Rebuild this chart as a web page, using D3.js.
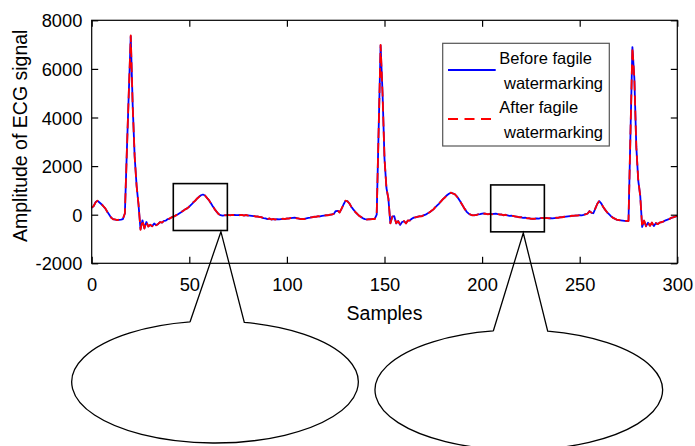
<!DOCTYPE html>
<html>
<head>
<meta charset="utf-8">
<script src="https://cdn.jsdelivr.net/npm/d3@7/dist/d3.min.js"></script>
<style>
  body { margin: 0; background: #fff; }
  text { font-family: "Liberation Sans", Arial, sans-serif; fill: #000; }
</style>
</head>
<body>
<svg id="chart"></svg>
<script>
// Tick values of both axes
const xTicks = [0, 50, 100, 150, 200, 250, 300];
const yTicks = [-2000, 0, 2000, 4000, 6000, 8000];

// Legend entries
const legendLabels = [["Before fagile", "watermarking"], ["After fagile", "watermarking"]];

// ECG amplitude, one value per sample (0..300)
const beforeWm = [
  280, 350, 520, 570, 500, 430, 350, 250, 120, 0,
  -130, -180, -200, -210, -210, -200, -180, 50, 2600, 5000,
  7350, 4500, 2400, 1200, 400, -600, -230, -560, -300, -480,
  -420, -470, -360, -430, -390, -300, -330, -250, -240, -180,
  -160, -100, -80, -30, 10, 60, 110, 170, 220, 270,
  330, 410, 500, 580, 660, 740, 800, 830, 790, 700,
  600, 480, 350, 230, 120, 30, -20, -40, -30, -20,
  -20, -20, -20, -10, -20, -20, -10, -20, -30, -20,
  -30, -40, -50, -60, -70, -80, -90, -110, -140, -150,
  -180, -160, -190, -180, -190, -180, -190, -180, -170, -170,
  -160, -150, -140, -130, -120, -140, -160, -170, -180, -170,
  -150, -130, -120, -100, -90, -80, -70, -70, -50, -40,
  -30, -20, -10, 10, 30, 150, 160, 100, 240, 420,
  570, 560, 460, 330, 220, 120, 30, -40, -100, -150,
  -180, -190, -190, -180, -180, -170, 0, 3500, 6970, 5000,
  2300, 1100, 650, -350, -80, -60, -360, -260, -420, -300,
  -270, -350, -240, -230, -170, -120, -110, -80, -70, -60,
  -30, 0, 50, 100, 150, 220, 300, 380, 460, 560,
  640, 720, 800, 860, 900, 880, 840, 760, 650, 520,
  380, 250, 130, 50, 0, -20, -30, -10, 10, 20,
  40, 50, 30, 20, 30, 20, 30, 40, 20, 10,
  0, -20, -10, -30, -50, -40, -60, -70, -90, -100,
  -110, -130, -120, -140, -150, -160, -170, -160, -150, -160,
  -140, -130, -140, -130, -150, -140, -150, -140, -130, -120,
  -110, -100, -90, -80, -70, -60, -50, -40, -40, -30,
  -20, -30, -10, 20, 40, 150, 80, 60, 250, 450,
  560, 470, 320, 210, 100, 20, -60, -120, -170, -200,
  -220, -230, -240, -250, -260, -250, 3300, 6900, 5600, 2800,
  1400, 800, -500, -250, -470, -330, -450, -330, -470, -350,
  -380, -330, -300, -280, -230, -200, -170, -130, -100, -80,
  -50
];
const afterWm = [
  290, 360, 510, 580, 490, 440, 340, 260, 110, 10,
  -120, -190, -190, -220, -200, -210, -170, 60, 2580, 5020,
  7380, 4480, 2420, 1180, 420, -620, -220, -570, -290, -490,
  -410, -480, -350, -440, -380, -310, -320, -260, -230, -190,
  -150, -110, -70, -40, 20, 50, 120, 160, 230, 260,
  340, 400, 510, 570, 670, 730, 810, 820, 800, 690,
  610, 470, 360, 220, 130, 20, -10, -50, -20, -30,
  -10, -30, -10, -20, -10, -30, -20, -10, -40, -10,
  -40, -30, -60, -50, -80, -70, -100, -100, -150, -140,
  -190, -150, -200, -170, -200, -170, -180, -190, -160, -180,
  -150, -160, -130, -140, -110, -150, -150, -180, -170, -180,
  -140, -140, -110, -110, -80, -90, -60, -80, -40, -50,
  -20, -30, 0, 0, 40, 140, 170, 90, 250, 410,
  580, 550, 470, 320, 230, 110, 40, -50, -90, -160,
  -170, -200, -180, -190, -170, -180, 10, 3480, 6990, 4980,
  2320, 1080, 670, -360, -70, -70, -350, -270, -410, -310,
  -260, -360, -230, -240, -160, -130, -100, -90, -60, -70,
  -20, -10, 60, 90, 160, 210, 310, 370, 470, 550,
  650, 710, 810, 850, 910, 870, 850, 750, 660, 510,
  390, 240, 140, 40, 10, -30, -20, -20, 20, 10,
  50, 40, 40, 10, 40, 10, 40, 30, 30, 0,
  10, -30, 0, -40, -40, -50, -50, -80, -80, -110,
  -100, -140, -110, -150, -140, -170, -160, -170, -140, -170,
  -130, -140, -130, -140, -140, -150, -140, -150, -120, -130,
  -100, -110, -80, -90, -60, -70, -40, -50, -30, -40,
  -10, -40, 0, 10, 50, 140, 90, 50, 260, 440,
  570, 460, 330, 200, 110, 10, -50, -130, -160, -210,
  -210, -240, -230, -260, -250, -260, 3320, 6880, 5620, 2780,
  1420, 780, -510, -240, -480, -320, -460, -320, -480, -340,
  -390, -320, -310, -270, -240, -190, -180, -120, -110, -70,
  -60
];

// Magnified regions: data-space rectangle and the sample under the pointer
const zoomRegions = [
  { x0: 41.8, x1: 69.5, y0: -650, y1: 1280, tip: 66.2 },
  { x0: 204.4, x1: 231.9, y0: -705, y1: 1225, tip: 221.1 }
];

document.addEventListener('DOMContentLoaded', function () {
    drawEcgChart('chart');
});

function drawEcgChart(svgId) {
    const svgWidth = 695;
    const svgHeight = 446;
    const margin = { top: 20.3, right: 17.7, bottom: 182.7, left: 91.7 };
    const width = svgWidth - margin.left - margin.right;
    const height = svgHeight - margin.top - margin.bottom;
    const tickLen = 6.5;

    const root = d3.select(`#${svgId}`)
        .attr("width", svgWidth)
        .attr("height", svgHeight);

    const svg = root.append("g")
        .attr("transform", `translate(${margin.left},${margin.top})`);

    const x = d3.scaleLinear().domain([0, 300]).range([0, width]);
    const y = d3.scaleLinear().domain([-2000, 8000]).range([height, 0]);

    // Lines
    const line = d3.line()
        .x((d, i) => x(i))
        .y(d => y(d));

    svg.append("path")
        .attr("d", line(beforeWm))
        .attr("fill", "none")
        .attr("stroke", "#0000ff")
        .attr("stroke-width", 1.8)
        .attr("stroke-linejoin", "round");

    svg.append("path")
        .attr("d", line(afterWm))
        .attr("fill", "none")
        .attr("stroke", "#ff0000")
        .attr("stroke-width", 1.8)
        .attr("stroke-dasharray", "10,5")
        .attr("stroke-linejoin", "round");

    // Axes (ticks pointing inward on all four sides)
    const plain = d => String(d);
    svg.append("g")
        .attr("transform", `translate(0,${height})`)
        .call(d3.axisBottom(x).tickValues(xTicks).tickFormat(plain)
            .tickSizeInner(-tickLen).tickSizeOuter(0).tickPadding(15));
    svg.append("g")
        .call(d3.axisTop(x).tickValues(xTicks).tickSizeInner(-tickLen).tickSizeOuter(0).tickFormat(""));
    const yAxis = svg.append("g")
        .call(d3.axisLeft(y).tickValues(yTicks).tickFormat(plain)
            .tickSizeInner(-tickLen).tickSizeOuter(0).tickPadding(9.4));
    svg.append("g")
        .attr("transform", `translate(${width},0)`)
        .call(d3.axisRight(y).tickValues(yTicks).tickSizeInner(-tickLen).tickSizeOuter(0).tickFormat(""));

    svg.selectAll(".domain").remove();
    svg.selectAll(".tick line").attr("stroke", "#000").attr("stroke-width", 1.2);
    svg.selectAll(".tick text")
        .attr("font-size", 18.3)
        .attr("font-family", "Liberation Sans, Arial, sans-serif")
        .attr("fill", "#000");
    yAxis.selectAll(".tick text").attr("dy", "0.36em");

    // Box
    svg.append("rect")
        .attr("width", width)
        .attr("height", height)
        .attr("fill", "none")
        .attr("stroke", "#000")
        .attr("stroke-width", 1.2);

    // Axis labels
    svg.append("text")
        .attr("x", width / 2)
        .attr("y", height + 56.5)
        .attr("text-anchor", "middle")
        .attr("font-size", 19.5)
        .text("Samples");

    svg.append("text")
        .attr("transform", "rotate(-90)")
        .attr("x", -height / 2 + 6)
        .attr("y", -64.7)
        .attr("text-anchor", "middle")
        .attr("font-size", 19.5)
        .text("Amplitude of ECG signal");

    // Legend
    const legend = svg.append("g")
        .attr("transform", `translate(${442.7 - margin.left},${43.3 - margin.top})`);
    legend.append("rect")
        .attr("width", 166.6)
        .attr("height", 102.7)
        .attr("fill", "#fff")
        .attr("stroke", "#555")
        .attr("stroke-width", 1.2);
    const legendStyles = [
        { color: "#0000ff", dash: null },
        { color: "#ff0000", dash: "10,6.5" }
    ];
    legendLabels.forEach((lbl, i) => {
        const top = i * 49;
        legend.append("line")
            .attr("x1", 5.3).attr("x2", 53)
            .attr("y1", top + 26.7).attr("y2", top + 26.7)
            .attr("stroke", legendStyles[i].color)
            .attr("stroke-width", 1.8)
            .attr("stroke-dasharray", legendStyles[i].dash);
        legend.append("text")
            .attr("x", 56.6).attr("y", top + 20.7)
            .attr("font-size", 16.5)
            .text(lbl[0]);
        legend.append("text")
            .attr("x", 61.3).attr("y", top + 45.7)
            .attr("font-size", 16.5)
            .text(lbl[1]);
    });

    // Magnification boxes with callout balloons
    const balloons = [
        { cx: 215, cy: 382, rx: 143.3, ry: 61, left: 190, right: 244.3 },
        { cx: 518.8, cy: 390, rx: 143.8, ry: 60, left: 493.3, right: 547.7 }
    ];
    zoomRegions.forEach((r, i) => {
        svg.append("rect")
            .attr("x", x(r.x0))
            .attr("y", y(r.y1))
            .attr("width", x(r.x1) - x(r.x0))
            .attr("height", y(r.y0) - y(r.y1))
            .attr("fill", "none")
            .attr("stroke", "#000")
            .attr("stroke-width", 1.6);

        const b = balloons[i];
        const tipX = x(r.tip) + margin.left;
        const tipY = y(r.y0) + margin.top + 1.2;
        const edgeY = px => b.cy - b.ry * Math.sqrt(1 - Math.pow((px - b.cx) / b.rx, 2));
        const lY = edgeY(b.left);
        const rY = edgeY(b.right);
        root.append("path")
            .attr("d", `M${b.left},${lY} L${tipX},${tipY} L${b.right},${rY} ` +
                `A${b.rx},${b.ry} 0 1 1 ${b.left},${lY}`)
            .attr("fill", "none")
            .attr("stroke", "#000")
            .attr("stroke-width", 1.3)
            .attr("stroke-linejoin", "miter");
    });
}
</script>
</body>
</html>
